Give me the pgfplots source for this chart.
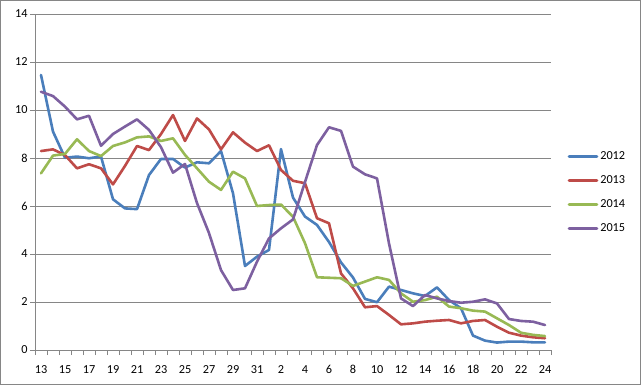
\documentclass[border=0pt]{standalone}
\usepackage{pgfplots}
\pgfplotsset{compat=1.18}
\usepackage{pgfplotstable}
\usepackage{fontspec}
\setmainfont{Carlito}
\definecolor{c2012}{HTML}{4A7EBB}
\definecolor{c2013}{HTML}{BE4B48}
\definecolor{c2014}{HTML}{98B954}
\definecolor{c2015}{HTML}{7D60A0}
\definecolor{axgray}{HTML}{868686}
\pgfplotstableread{
i  a     b     c     d
0  11.46 8.29  7.36  10.76
1  9.10  8.36  8.10  10.58
2  8.01  8.12  8.17  10.14
3  8.06  7.57  8.78  9.61
4  7.99  7.74  8.29  9.76
5  8.06  7.57  8.08  8.51
6  6.28  6.90  8.50  9.00
7  5.90  7.67  8.65  9.31
8  5.87  8.50  8.86  9.61
9  7.29  8.33  8.90  9.17
10 7.96  9.00  8.71  8.45
11 7.96  9.79  8.82  7.39
12 7.60  8.71  8.13  7.75
13 7.82  9.65  7.57  6.12
14 7.78  9.19  7.01  4.87
15 8.29  8.36  6.67  3.33
16 6.53  9.07  7.43  2.50
17 3.50  8.64  7.15  2.57
18 3.89  8.29  6.00  3.68
19 4.17  8.53  6.04  4.65
20 8.37  7.50  6.06  5.07
21 6.35  7.05  5.55  5.44
22 5.56  6.95  4.45  7.00
23 5.21  5.49  3.03  8.54
24 4.50  5.28  3.01  9.28
25 3.65  3.19  2.99  9.13
26 3.02  2.57  2.67  7.64
27 2.13  1.78  2.85  7.32
28 1.99  1.83  3.03  7.15
29 2.64  1.46  2.92  4.44
30 2.50  1.07  2.36  2.15
31 2.36  1.11  2.01  1.83
32 2.25  1.18  2.08  2.29
33 2.61  1.22  2.22  2.15
34 2.08  1.25  1.81  2.04
35 1.74  1.11  1.74  1.97
36 0.60  1.21  1.64  2.01
37 0.39  1.25  1.60  2.11
38 0.31  0.97  1.32  1.94
39 0.35  0.72  1.04  1.29
40 0.35  0.60  0.72  1.21
41 0.32  0.53  0.63  1.18
42 0.32  0.49  0.58  1.04
}\datatable
\begin{document}
\begin{tikzpicture}
\draw[draw=axgray, line width=1bp] (0.5bp,0.5bp) rectangle (640.5bp,384.5bp);
\begin{axis}[
  at={(35bp,35bp)}, anchor=south west,
  scale only axis, width=516bp, height=336bp,
  xmin=-0.5, xmax=42.5, ymin=0, ymax=14,
  axis lines=left,
  axis line style={-, draw=axgray, line width=0.8bp},
  xtick={0,2,...,42},
  xticklabels={13,15,17,19,21,23,25,27,29,31,2,4,6,8,10,12,14,16,18,20,22,24},
  minor xtick={-0.5,0.5,...,42.5},
  major tick length=0pt,
  minor tick length=5bp,
  tick align=outside,
  tick style={draw=axgray, line width=0.8bp},
  ytick={0,2,...,14},
  extra y ticks={0,2,...,14},
  extra y tick labels={},
  extra y tick style={major tick length=5bp, grid=none},
  ymajorgrids,
  major grid style={draw=axgray, line width=0.8bp},
  /pgf/number format/assume math mode=true,
  ticklabel style={font=\fontsize{12.3}{14}\selectfont},
  xticklabel style={yshift=-12bp},
  yticklabel style={xshift=-4bp},
  legend style={at={(1.032,0.469)}, anchor=west, draw=none, fill=none,
    font=\fontsize{12.3}{14}\selectfont, row sep=10.5bp, inner sep=0pt,
    legend cell align=left},
  legend image code/.code={\draw[#1] (0bp,0bp) -- (28bp,0bp);},
  every axis plot/.append style={line width=2.6bp, line join=round, line cap=round},
  clip=false,
]
\addplot[color=c2012, no marks] table[x=i, y=a] {\datatable};
\addplot[color=c2013, no marks] table[x=i, y=b] {\datatable};
\addplot[color=c2014, no marks] table[x=i, y=c] {\datatable};
\addplot[color=c2015, no marks] table[x=i, y=d] {\datatable};
\legend{2012,2013,2014,2015}
\end{axis}
\end{tikzpicture}
\end{document}
